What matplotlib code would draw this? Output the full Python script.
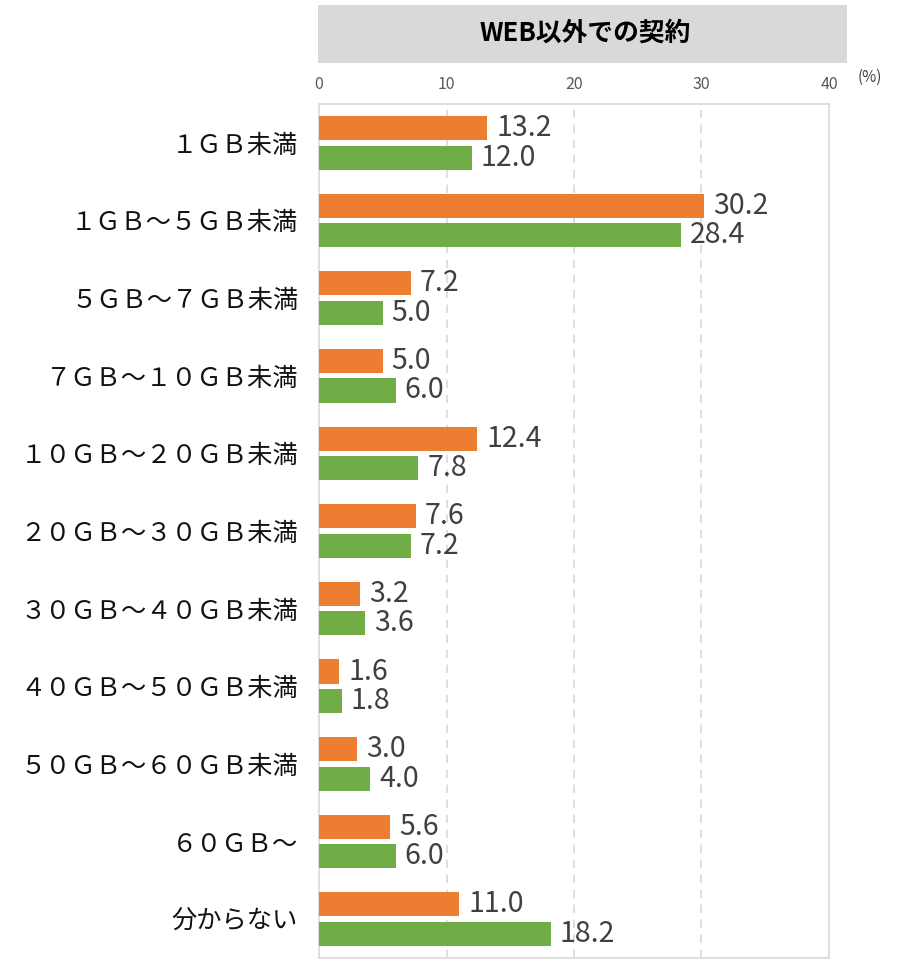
import numpy as np
import matplotlib
matplotlib.use("Agg")
import matplotlib.pyplot as plt
from matplotlib.patches import Rectangle

plt.rcParams['font.family'] = ['Noto Sans CJK JP', 'DejaVu Sans']

categories = ["１ＧＢ未満", "１ＧＢ～５ＧＢ未満", "５ＧＢ～７ＧＢ未満", "７ＧＢ～１０ＧＢ未満",
              "１０ＧＢ～２０ＧＢ未満", "２０ＧＢ～３０ＧＢ未満", "３０ＧＢ～４０ＧＢ未満",
              "４０ＧＢ～５０ＧＢ未満", "５０ＧＢ～６０ＧＢ未満", "６０ＧＢ～", "分からない"]
orange_vals = [13.2, 30.2, 7.2, 5.0, 12.4, 7.6, 3.2, 1.6, 3.0, 5.6, 11.0]
green_vals = [12.0, 28.4, 5.0, 6.0, 7.8, 7.2, 3.6, 1.8, 4.0, 6.0, 18.2]
xticks = [0, 10, 20, 30, 40]
title = "WEB以外での契約"

ORANGE = "#ED7D31"
GREEN = "#70AD47"

fig = plt.figure(figsize=(9.05, 9.63), dpi=100)
ax = fig.add_axes([0.3525, 0.0052, 0.5635, 0.8868])

y = np.arange(len(categories))
h = 0.31
off = 0.19
ax.barh(y - off, orange_vals, height=h, color=ORANGE, zorder=3)
ax.barh(y + off, green_vals, height=h, color=GREEN, zorder=3)

for yi, v in zip(y - off, orange_vals):
    ax.text(v + 0.7, yi, f"{v:.1f}", va="center", ha="left", fontsize=20.5,
            color="#404040")
for yi, v in zip(y + off, green_vals):
    ax.text(v + 0.7, yi, f"{v:.1f}", va="center", ha="left", fontsize=20.5,
            color="#404040")

ax.set_xlim(0, 40)
ax.set_ylim(len(categories) - 0.5, -0.5)
ax.set_yticks(y)
ax.set_yticklabels(categories, fontsize=18.2, color="#111111")
ax.set_xticks(xticks)
ax.set_xticklabels([str(t) for t in xticks], fontsize=11.5, color="#595959")
ax.xaxis.tick_top()
ax.tick_params(axis="x", length=0, pad=8)
ax.tick_params(axis="y", length=0, pad=15)
for s in ax.spines.values():
    s.set_color("#d9d9d9")
    s.set_linewidth(1.2)
for gx in [10, 20, 30]:
    ax.axvline(gx, color="#d9d9d9", linestyle=(0, (5, 4)), linewidth=1.2, zorder=1)

fig.text(870 / 905, 1 - 77 / 963, "(%)", fontsize=11, color="#404040",
         ha="center", va="center")

# title box
fig.patches.append(Rectangle((318 / 905, 1 - 63 / 963), 529 / 905, 58 / 963,
                             transform=fig.transFigure, facecolor="#d9d9d9",
                             edgecolor="none"))
fig.text(585 / 905, 1 - 33 / 963, title, fontsize=18.5, fontweight="bold",
         ha="center", va="center", color="#000000")

fig.savefig("out.png", dpi=100)
